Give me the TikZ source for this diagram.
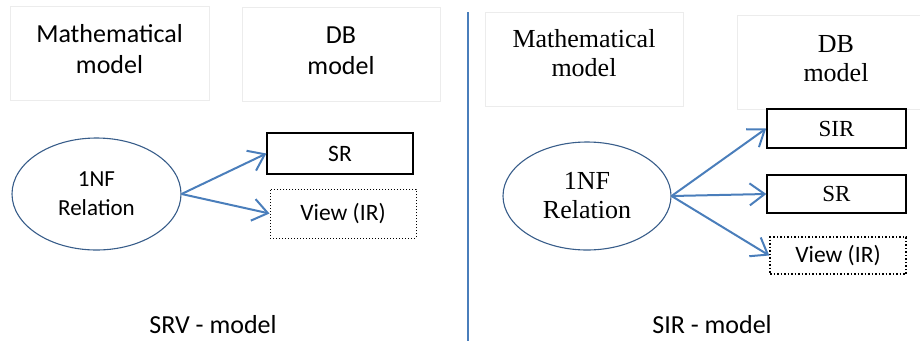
\documentclass[tikz,border=0pt]{standalone}
\usepackage{fontspec}
\setmainfont{Liberation Serif}
\newfontfamily\calib{Carlito}
\usetikzlibrary{positioning,shapes.geometric,arrows.meta}
\definecolor{arrblue}{RGB}{74,126,187}
\definecolor{ellblue}{RGB}{56,93,138}
\definecolor{boxgray}{RGB}{236,236,236}

\tikzset{
  mbox/.style={draw=boxgray,line width=0.8pt,inner sep=0pt},
  relbox/.style={draw=black,line width=1.3pt,inner sep=0pt,minimum width=146pt},
  viewbox/.style={draw=black,dotted,line width=1pt,inner sep=0pt,minimum width=146pt},
  rel/.style={draw=ellblue,ellipse,line width=1.1pt,align=center,inner sep=0pt},
  arr/.style={draw=arrblue,line width=2pt,-{Straight Barb[length=15pt,width=22pt]}},
  lbig/.style={font=\calib\fontsize{26}{31}\selectfont,align=center,inner sep=1pt},
  lmid/.style={font=\calib\fontsize{23.5}{29}\selectfont,align=center},
  rbig/.style={font=\fontsize{26}{29}\selectfont,align=center,inner sep=1pt},
  rmid/.style={font=\fontsize{23}{29}\selectfont,align=center},
}

\begin{document}
\begin{tikzpicture}[x=1pt,y=-1pt]
\useasboundingbox (0,0) rectangle (920,341);

% SRV side
\node[mbox,minimum width=199pt,minimum height=94pt] (math1) at (109.5,53) {};
\node[lbig] (math1txt) at (109.5,49.5) {Mathematical\\model};
\node[mbox,minimum width=198pt,minimum height=94pt] (db1) at (341,54) {};
\node[lbig] (db1txt) at (341,50.5) {DB\\model};

\node[rel,lmid,font=\calib\fontsize{23}{29}\selectfont,minimum width=169pt,minimum height=112pt] (rel1) at (96.5,194) {1NF\\Relation};
\node[relbox,lmid,minimum height=41pt] (sr1) at (340,153.5) {SR};
\node[viewbox,lmid,minimum height=49pt] (view1) at (343,213.5) {View (IR)};
\draw[arr] (rel1.east) -- (sr1.west);
\draw[arr] (rel1.east) -- (view1.west);

\node[lbig] (srv) at (213,325) {SRV - model};

% divider
\coordinate (top) at (468,12);
\coordinate (bot) at (468,341);
\draw[arrblue,line width=1.5pt] (top) -- (bot);

% SIR side
\node[mbox,minimum width=198pt,minimum height=94pt] (math2) at (584,59) {};
\node[rbig] (math2txt) at (584,53.5) {Mathematical\\model};
\node[mbox,minimum width=198pt,minimum height=94pt] (db2) at (836,62) {};
\node[rbig] (db2txt) at (836,58.5) {DB\\model};

\node[rel,rbig,minimum width=168pt,minimum height=108pt] (rel2) at (587,196) {1NF\\Relation};
\node[relbox,rmid,line width=1.7pt,minimum width=139pt,minimum height=39pt] (sir2) at (836.5,128.5) {SIR};
\node[relbox,rmid,minimum width=139pt,minimum height=38pt] (sr2) at (836.5,194) {SR};
\node[viewbox,lmid,line width=1.5pt,minimum width=136pt,minimum height=37pt] (view2) at (838,255.5) {View (IR)};
\draw[arr] (rel2.east) -- (sir2.west);
\draw[arr] (rel2.east) -- (sr2.west);
\draw[arr] (rel2.east) -- (view2.west);

\node[lbig] (sir) at (712,325) {SIR - model};
\end{tikzpicture}
\end{document}
